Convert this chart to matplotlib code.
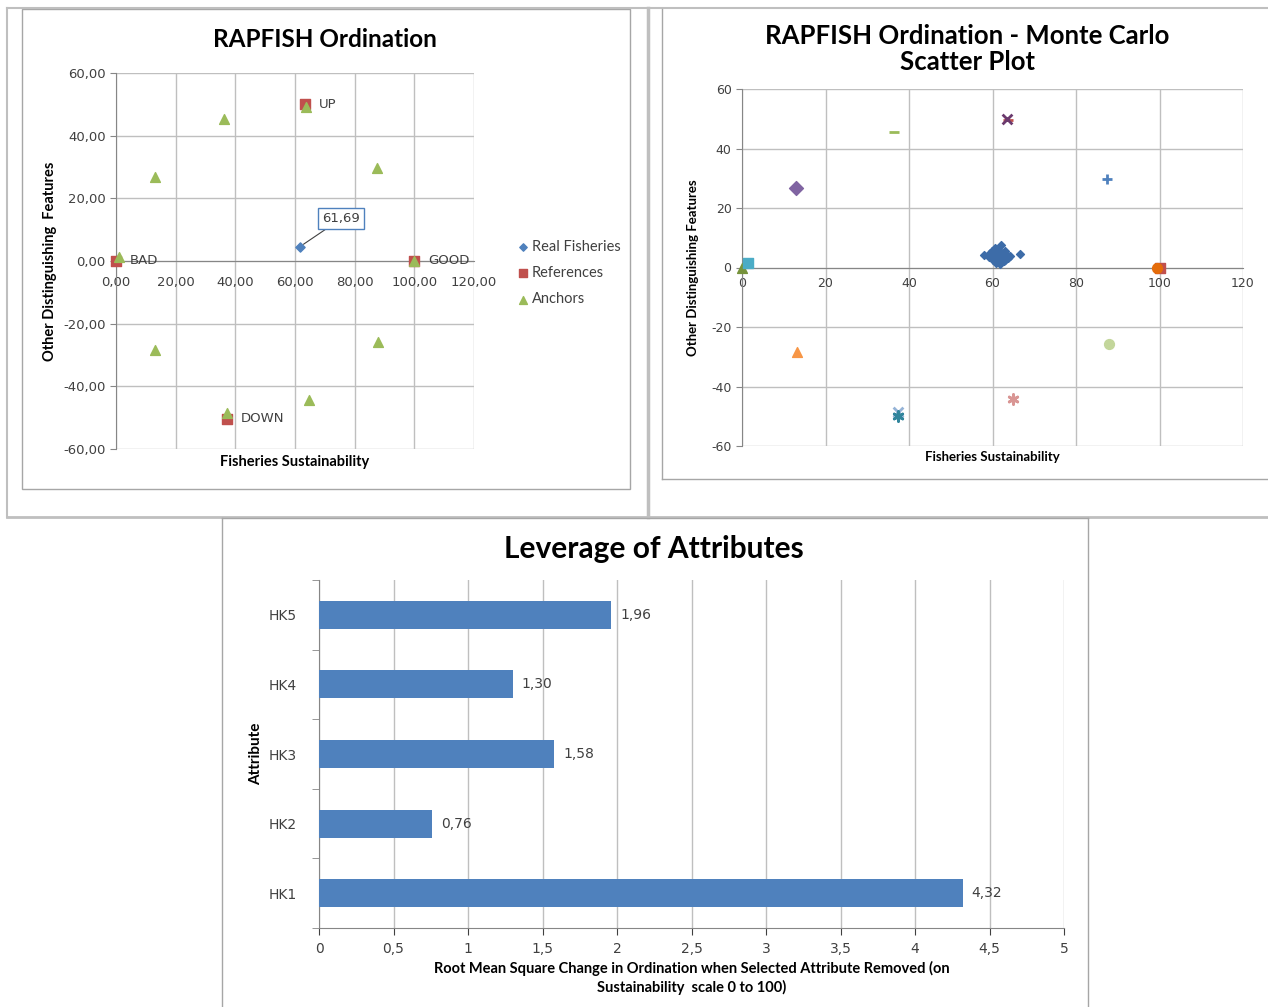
import matplotlib.pyplot as plt
from matplotlib.patches import Rectangle
from matplotlib.lines import Line2D
from matplotlib.ticker import FuncFormatter, MultipleLocator

plt.rcParams['font.family'] = ['DejaVu Sans']

# --- RAPFISH ordination (top left) ---
real_x = [61.69]
real_y = [4.6]
ref_names = ['BAD', 'GOOD', 'UP', 'DOWN']
ref_x = [0.0, 100.0, 63.5, 37.3]
ref_y = [0.0, 0.0, 50.0, -50.3]
anchor_x = [1.0, 13.1, 36.2, 63.6, 87.5, 99.8, 87.8, 64.7, 37.3, 13.1]
anchor_y = [1.3, 26.8, 45.3, 49.3, 29.7, 0.0, -25.9, -44.4, -48.5, -28.4]

# --- Monte Carlo (top right) ---
mc_x = [58.0, 59.2, 59.8, 60.3, 60.6, 60.9, 61.2, 61.5, 61.8, 62.0, 62.3, 62.6,
        63.0, 63.4, 63.8, 64.3, 60.1, 60.8, 61.4, 62.1, 62.8, 59.5, 61.0, 62.5,
        60.5, 66.5, 62.1, 61.7, 63.1, 60.2]
mc_y = [4.2, 3.6, 5.5, 4.8, 2.2, 6.0, 3.1, 4.4, 5.2, 2.8, 3.7, 4.9,
        2.6, 4.1, 3.3, 4.0, 3.2, 1.5, 5.8, 4.6, 2.1, 4.9, 3.9, 3.0,
        6.5, 4.5, 7.5, 1.2, 5.6, 2.4]
mc_anchor_x = [0.0, 1.5, 13.0, 36.5, 63.8, 63.5, 87.5, 100.0, 99.5, 88.0, 65.0, 37.3, 37.3, 13.2]
mc_anchor_y = [0.0, 1.5, 26.8, 45.5, 49.6, 50.0, 29.7, 0.0, 0.0, -25.7, -44.2, -48.5, -50.0, -28.5]
ASTERISK = (6, 2, 0)
mc_markers = ['^', 's', 'D', '_', '_', 'x', '+', 's', 'o', 'o', ASTERISK, 'x', ASTERISK, '^']
mc_colors = ['#77933C', '#4BACC6', '#8064A2', '#9BBB59', '#C0504D', '#6B3A6E', '#4F81BD',
             '#C0504D', '#E46C0A', '#C3D69B', '#D99694', '#95B3D7', '#31859C', '#F79646']

# --- Leverage (bottom) ---
attributes = ['HK1', 'HK2', 'HK3', 'HK4', 'HK5']
rms_change = [4.32, 0.76, 1.58, 1.30, 1.96]

W, H = 1268, 1007
fig = plt.figure(figsize=(W / 100, H / 100), dpi=100)
TITLE_FONT = ['Lato', 'DejaVu Sans']
GRID = '#BFBFBF'
SPINE = '#868686'


def px_axes(left, top, right, bottom):
    return fig.add_axes([left / W, 1 - bottom / H, (right - left) / W, (bottom - top) / H])


def frame(x0, y0, x1, y1, color='#A6A6A6', lw=1.0):
    fig.add_artist(Rectangle((x0 / W, 1 - y1 / H), (x1 - x0) / W, (y1 - y0) / H,
                             transform=fig.transFigure, fill=False, edgecolor=color, lw=lw))


def hline(x0, x1, y, color='#BFBFBF', lw=1.5):
    fig.add_artist(Line2D([x0 / W, x1 / W], [1 - y / H, 1 - y / H], transform=fig.transFigure,
                          color=color, lw=lw))


def vline(x, y0, y1, color='#BFBFBF', lw=1.5):
    fig.add_artist(Line2D([x / W, x / W], [1 - y0 / H, 1 - y1 / H], transform=fig.transFigure,
                          color=color, lw=lw))


# frames
hline(7, W, 8)
hline(7, W, 517, lw=2)
vline(7, 8, 517)
vline(648, 8, 517, lw=2.5)
frame(22, 9, 630, 489)
vline(662, 9, 479, color='#A6A6A6', lw=1)
hline(662, W, 479, color='#A6A6A6', lw=1)
vline(222, 518, H + 5, color='#A6A6A6', lw=1)
vline(1088, 518, H + 5, color='#A6A6A6', lw=1)
hline(222, 1088, 518, color='#A6A6A6', lw=1)


def comma2(v, pos):
    return ('%.2f' % v).replace('.', ',')


def style_cross_axes(ax, fmt, size):
    ax.grid(True, color=GRID, lw=1)
    ax.set_axisbelow(True)
    for s in ['top', 'right']:
        ax.spines[s].set_visible(False)
    ax.spines['bottom'].set_position(('data', 0))
    ax.spines['bottom'].set_color(SPINE)
    ax.spines['left'].set_color(SPINE)
    ax.tick_params(axis='both', colors='#404040', labelsize=size, length=4, direction='out')
    ax.tick_params(axis='y', color=SPINE)
    ax.tick_params(axis='x', length=0)
    ax.xaxis.set_major_formatter(FuncFormatter(fmt))
    ax.yaxis.set_major_formatter(FuncFormatter(fmt))


# ---- top left ----
ax1 = px_axes(116, 73, 474, 449)
ax1.set_xlim(0, 120)
ax1.set_ylim(-60, 60)
ax1.xaxis.set_major_locator(MultipleLocator(20))
ax1.yaxis.set_major_locator(MultipleLocator(20))
style_cross_axes(ax1, comma2, 9.5)
ax1.tick_params(axis='x', pad=11)
ax1.scatter(real_x, real_y, marker='D', s=22, color='#4F81BD', zorder=3, label='Real Fisheries')
ax1.scatter(ref_x, ref_y, marker='s', s=50, color='#C0504D', zorder=3, label='References',
            clip_on=False)
ax1.scatter(anchor_x, anchor_y, marker='^', s=50, color='#9BBB59', zorder=4, label='Anchors',
            clip_on=False)
for name, x, y in zip(ref_names, ref_x, ref_y):
    ax1.annotate(name, (x, y), xytext=(10, 0), textcoords='offset points', va='center',
                 fontsize=9.5, color='#404040')
ax1.annotate(comma2(real_x[0], 0), (real_x[0], real_y[0]), xytext=(16, 20),
             textcoords='offset points', fontsize=9.5, color='#404040', va='center', ha='left',
             bbox=dict(boxstyle='square,pad=0.3', fc='white', ec='#4F81BD', lw=1),
             arrowprops=dict(arrowstyle='-', color='#404040', lw=0.8, shrinkA=0, shrinkB=3))
ax1.set_title('RAPFISH Ordination', fontsize=17.5, fontweight='bold', family=TITLE_FONT, pad=19,
              x=0.585)
ax1.set_xlabel('Fisheries Sustainability', fontsize=10.5, fontweight='bold', family=TITLE_FONT)
ax1.xaxis.set_label_coords(0.5, -0.015)
ax1.set_ylabel('Other Distinguishing  Features', fontsize=10.5, fontweight='bold',
               family=TITLE_FONT)
ax1.yaxis.set_label_coords(-0.165, 0.5)
ax1.legend(loc='center left', bbox_to_anchor=(1.08, 0.468), frameon=False,
           handletextpad=0.1, handlelength=1, labelspacing=0.85, markerscale=0.8,
           labelcolor='#404040', prop={'family': TITLE_FONT, 'size': 10.5})

# ---- top right ----
ax2 = px_axes(742, 89, 1243, 446)
ax2.set_xlim(0, 120)
ax2.set_ylim(-60, 60)
ax2.xaxis.set_major_locator(MultipleLocator(20))
ax2.yaxis.set_major_locator(MultipleLocator(20))
style_cross_axes(ax2, lambda v, p: '%d' % v, 9)
ax2.tick_params(axis='x', pad=7)
ax2.scatter(mc_x, mc_y, marker='D', s=16, color='#3D6CA8', zorder=3)
for x, y, m, c in zip(mc_anchor_x, mc_anchor_y, mc_markers, mc_colors):
    lw = 2 if m in ['_', '+', 'x', ASTERISK] else 1
    ax2.scatter([x], [y], marker=m, s=50, color=c, zorder=4, linewidths=lw, clip_on=False)
ax2.set_title('RAPFISH Ordination - Monte Carlo\nScatter Plot', fontsize=18.5, fontweight='bold',
              family=TITLE_FONT, pad=14, x=0.45, linespacing=1.1)
ax2.set_xlabel('Fisheries Sustainability', fontsize=9.5, fontweight='bold', family=TITLE_FONT)
ax2.xaxis.set_label_coords(0.5, -0.014)
ax2.set_ylabel('Other Distinguishing Features', fontsize=9.5, fontweight='bold',
               family=TITLE_FONT)
ax2.yaxis.set_label_coords(-0.085, 0.5)

# ---- bottom ----
ax3 = px_axes(319, 580, 1064, 928)
bars = ax3.barh(range(len(attributes)), rms_change, height=0.4, color='#4F81BD', zorder=3)
ax3.set_xlim(0, 5)
ax3.set_ylim(-0.5, len(attributes) - 0.5)
ax3.xaxis.set_major_locator(MultipleLocator(0.5))
ax3.xaxis.set_major_formatter(FuncFormatter(lambda v, p: ('%g' % v).replace('.', ',')))
ax3.set_yticks(range(len(attributes)))
ax3.set_yticklabels(attributes)
ax3.set_yticks([i - 0.5 for i in range(len(attributes) + 1)], minor=True)
ax3.tick_params(axis='y', which='major', length=0, pad=16)
ax3.tick_params(axis='y', which='minor', length=5, color=SPINE)
ax3.tick_params(axis='x', length=5, color=SPINE, pad=5)
ax3.tick_params(axis='both', labelsize=10, colors='#404040')
ax3.tick_params(axis='y', which='minor', colors=SPINE)
ax3.grid(True, axis='x', color=GRID, lw=1)
for s in ['top', 'right']:
    ax3.spines[s].set_visible(False)
ax3.spines['left'].set_color(SPINE)
ax3.spines['bottom'].set_color(SPINE)
for b, v in zip(bars, rms_change):
    ax3.text(v + 0.06, b.get_y() + b.get_height() / 2, ('%.2f' % v).replace('.', ','),
             va='center', fontsize=10, color='#404040')
ax3.set_title('Leverage of Attributes', fontsize=21.5, fontweight='bold', family=TITLE_FONT,
              pad=16, x=0.45)
ax3.set_xlabel('Root Mean Square Change in Ordination when Selected Attribute Removed (on\n'
               'Sustainability  scale 0 to 100)', fontsize=10.5, fontweight='bold',
               family=TITLE_FONT, linespacing=1.3)
ax3.xaxis.set_label_coords(0.5, -0.095)
ax3.xaxis.label.set_va('top')
ax3.set_ylabel('Attribute', fontsize=11, fontweight='bold', family=TITLE_FONT)
ax3.yaxis.set_label_coords(-0.075, 0.5)

fig.savefig('out.png', dpi=100)
